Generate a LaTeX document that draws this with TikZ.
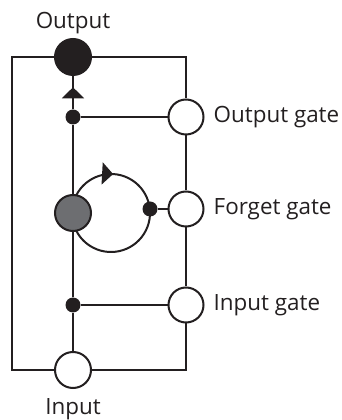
\documentclass[tikz,border=0pt]{standalone}
\usepackage{fontspec}
\setmainfont{Open Sans}
\usetikzlibrary{positioning,arrows.meta,decorations.markings}
\definecolor{encre}{HTML}{231F20}
\definecolor{gris}{HTML}{6D6E71}

\begin{document}
\begin{tikzpicture}[x=1pt, y=1pt]
 \tikzstyle{porte}=[circle, draw=encre, fill=white, line width=2pt, minimum size=35pt, inner sep=0pt]
 \tikzstyle{pastille}=[circle, fill=encre, minimum size=15pt, inner sep=0pt]
 \tikzstyle{lien}=[draw=encre, line width=2pt]
 \tikzstyle{etiq}=[text=encre, font=\fontsize{22.4}{26}\selectfont, inner sep=3pt]
 \tikzstyle{fleche}=[postaction={decorate, decoration={markings, mark=at position 22pt with {\arrow[encre]{Triangle[width=22pt, length=11pt]}}}}]
 \tikzstyle{boucle}=[postaction={decorate, decoration={markings, mark=at position 45pt with {\arrow[encre]{Triangle[width=22pt, length=11pt]}}}}]
 \useasboundingbox (0, 0) rectangle (341, 420);
 %
 \node[porte, fill=encre, minimum size=36pt] (out) at (73, 363) {};
 \node[porte, fill=gris, minimum size=36pt] (cell) at (73, 207) {};
 \node[porte, minimum size=36pt] (in) at (73, 50) {};
 %
 \node[porte] (og) at (186, 303) {};
 \node[porte] (fg) at (186, 211) {};
 \node[porte] (ig) at (186, 115) {};
 %
 \node[pastille] (d1) at (73, 303) {};
 \node[pastille] (d2) at (150, 211) {};
 \node[pastille] (d3) at (73, 115) {};
 \coordinate (ctr) at (111, 207);
 \coordinate (lt) at (12, 363);
 \coordinate (lb) at (12, 50);
 %
 \node[etiq, above=1pt of out] (lout) {Output};
 \node[etiq, below=6pt of in] (lin) {Input};
 \node[etiq, right=6pt of og] (log) {Output gate};
 \node[etiq, right=6pt of fg] (lfg) {Forget gate};
 \node[etiq, right=6pt of ig] (lig) {Input gate};
 %%
 \draw[lien] (out) -- (lt) -- (lb) -- (in);
 \draw[lien] (out) -| (og);
 \draw[lien] (og) -- (fg);
 \draw[lien] (fg) -- (ig);
 \draw[lien] (ig) |- (in);
 \draw[lien] (in) -- (d3);
 \draw[lien] (d3) -- (cell);
 \draw[lien] (cell) -- (d1);
 \draw[lien, fleche] (d1) -- (out);
 \draw[lien] (d1) -- (og);
 \draw[lien] (d2) -- (fg);
 \draw[lien] (d3) -- (ig);
 \draw[lien, boucle] ([shift={(153:39)}]ctr) arc[start angle=153, end angle=-153, radius=39];
\end{tikzpicture}
\end{document}
